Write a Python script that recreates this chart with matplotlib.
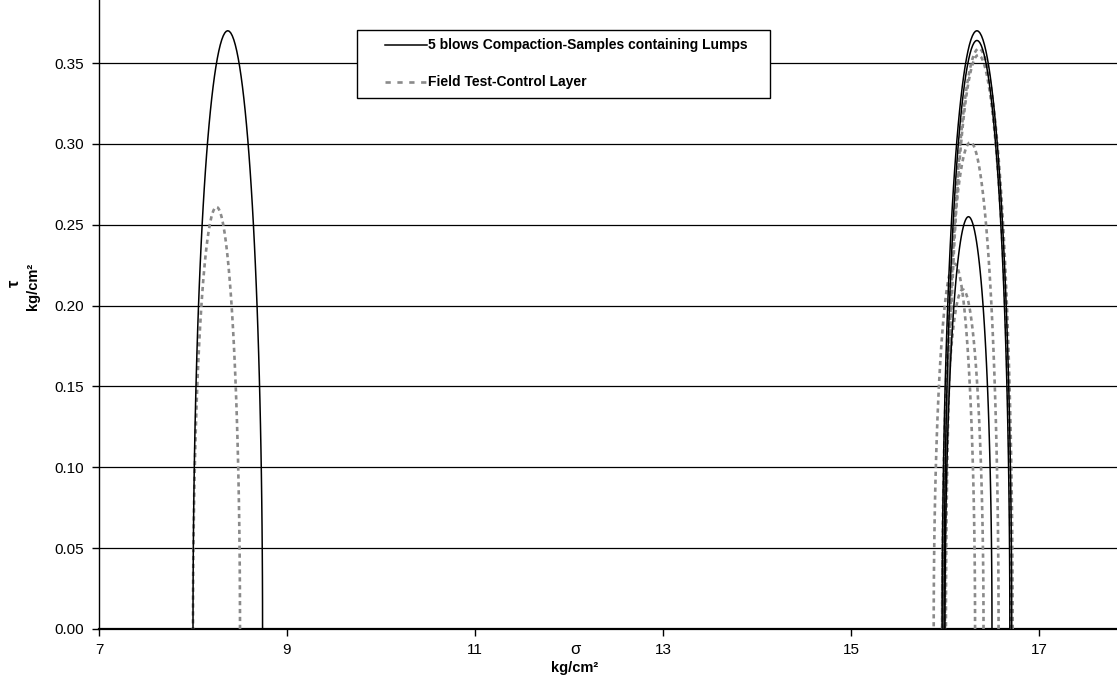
import numpy as np
import matplotlib
matplotlib.use("Agg")
import matplotlib.pyplot as plt
from matplotlib.lines import Line2D
from matplotlib.patches import Rectangle

plt.rcParams['font.family'] = ['Liberation Sans', 'DejaVu Sans']

# Mohr circles: sigma3, sigma1 (kg/cm2) and peak tau (kg/cm2)
lumps_s3 = [8.00, 15.97, 15.99, 16.00]
lumps_s1 = [8.74, 16.71, 16.69, 16.50]
lumps_tau = [0.370, 0.370, 0.364, 0.255]

field_s3 = [8.00, 16.00, 16.01, 15.97, 15.97, 15.88]
field_s1 = [8.50, 16.72, 16.70, 16.57, 16.41, 16.32]
field_tau = [0.261, 0.359, 0.355, 0.301, 0.210, 0.226]

lumps_label = "5 blows Compaction-Samples containing Lumps"
field_label = "Field Test-Control Layer"

x_ticks = [7, 9, 11, 13, 15, 17]
y_ticks = [0.00, 0.05, 0.10, 0.15, 0.20, 0.25, 0.30, 0.35]


def circle(s3, s1, top, n=73):
    th = np.linspace(0, np.pi, n)
    c = (s3 + s1) / 2
    r = (s1 - s3) / 2
    return c + r * np.cos(th), top * np.sin(th)


W, H = 1117, 680
fig = plt.figure(figsize=(W / 100, H / 100), dpi=100)
ax = fig.add_axes([99 / W, 51 / H, 1 - 99 / W, 629 / H])

gray = "#8a8a8a"
for i in range(len(field_s3)):
    xs, ys = circle(field_s3[i], field_s1[i], field_tau[i])
    ax.plot(xs, ys, color=gray, lw=1.9, dashes=(1.6, 1.4), zorder=3)

for i in range(len(lumps_s3)):
    xs, ys = circle(lumps_s3[i], lumps_s1[i], lumps_tau[i])
    ax.plot(xs, ys, color="black", lw=1.1, zorder=4)

ax.set_xlim(7, 17.83)
ax.set_ylim(0, 0.389)
ax.set_xticks(x_ticks)
ax.set_yticks(y_ticks)
ax.set_yticklabels(["%.2f" % v for v in y_ticks])
ax.tick_params(axis="both", direction="out", length=5, width=1,
               labelsize=11, colors="black")
ax.tick_params(axis="x", pad=5)
ax.tick_params(axis="y", pad=6)

ax.yaxis.grid(True, color="black", lw=0.9)
ax.set_axisbelow(True)
for side in ["top", "right"]:
    ax.spines[side].set_visible(False)
ax.spines["left"].set_linewidth(1)
ax.spines["bottom"].set_linewidth(1.6)

# axis titles
fig.text(575 / W, 1 - 650 / H, "σ", ha="center", va="center", fontsize=12)
fig.text(575 / W, 1 - 668 / H, "kg/cm²", ha="center", va="center",
         fontsize=10.5, fontweight="bold")
fig.text(14 / W, 1 - 283 / H, "τ", ha="center", va="center", fontsize=12,
         fontweight="bold", rotation=90)
fig.text(33 / W, 1 - 286 / H, "kg/cm²", ha="center", va="center",
         fontsize=10.5, fontweight="bold", rotation=90)

# legend box
fig.patches.append(Rectangle((357 / W, 1 - 98 / H), 413 / W, 68 / H,
                             transform=fig.transFigure, facecolor="white",
                             edgecolor="black", lw=1, zorder=5))
fig.lines.append(Line2D([385 / W, 427 / W], [1 - 45 / H, 1 - 45 / H],
                        transform=fig.transFigure, color="black", lw=1.1,
                        zorder=6))
fig.lines.append(Line2D([385 / W, 427 / W], [1 - 82 / H, 1 - 82 / H],
                        transform=fig.transFigure, color=gray, lw=1.9,
                        dashes=(2, 2.5), zorder=6))
fig.text(428 / W, 1 - 45 / H, lumps_label, ha="left", va="center",
         fontsize=10, fontweight="bold", zorder=7)
fig.text(428 / W, 1 - 82 / H, field_label, ha="left", va="center",
         fontsize=10, fontweight="bold", zorder=7)

fig.savefig("out.png", dpi=100)
